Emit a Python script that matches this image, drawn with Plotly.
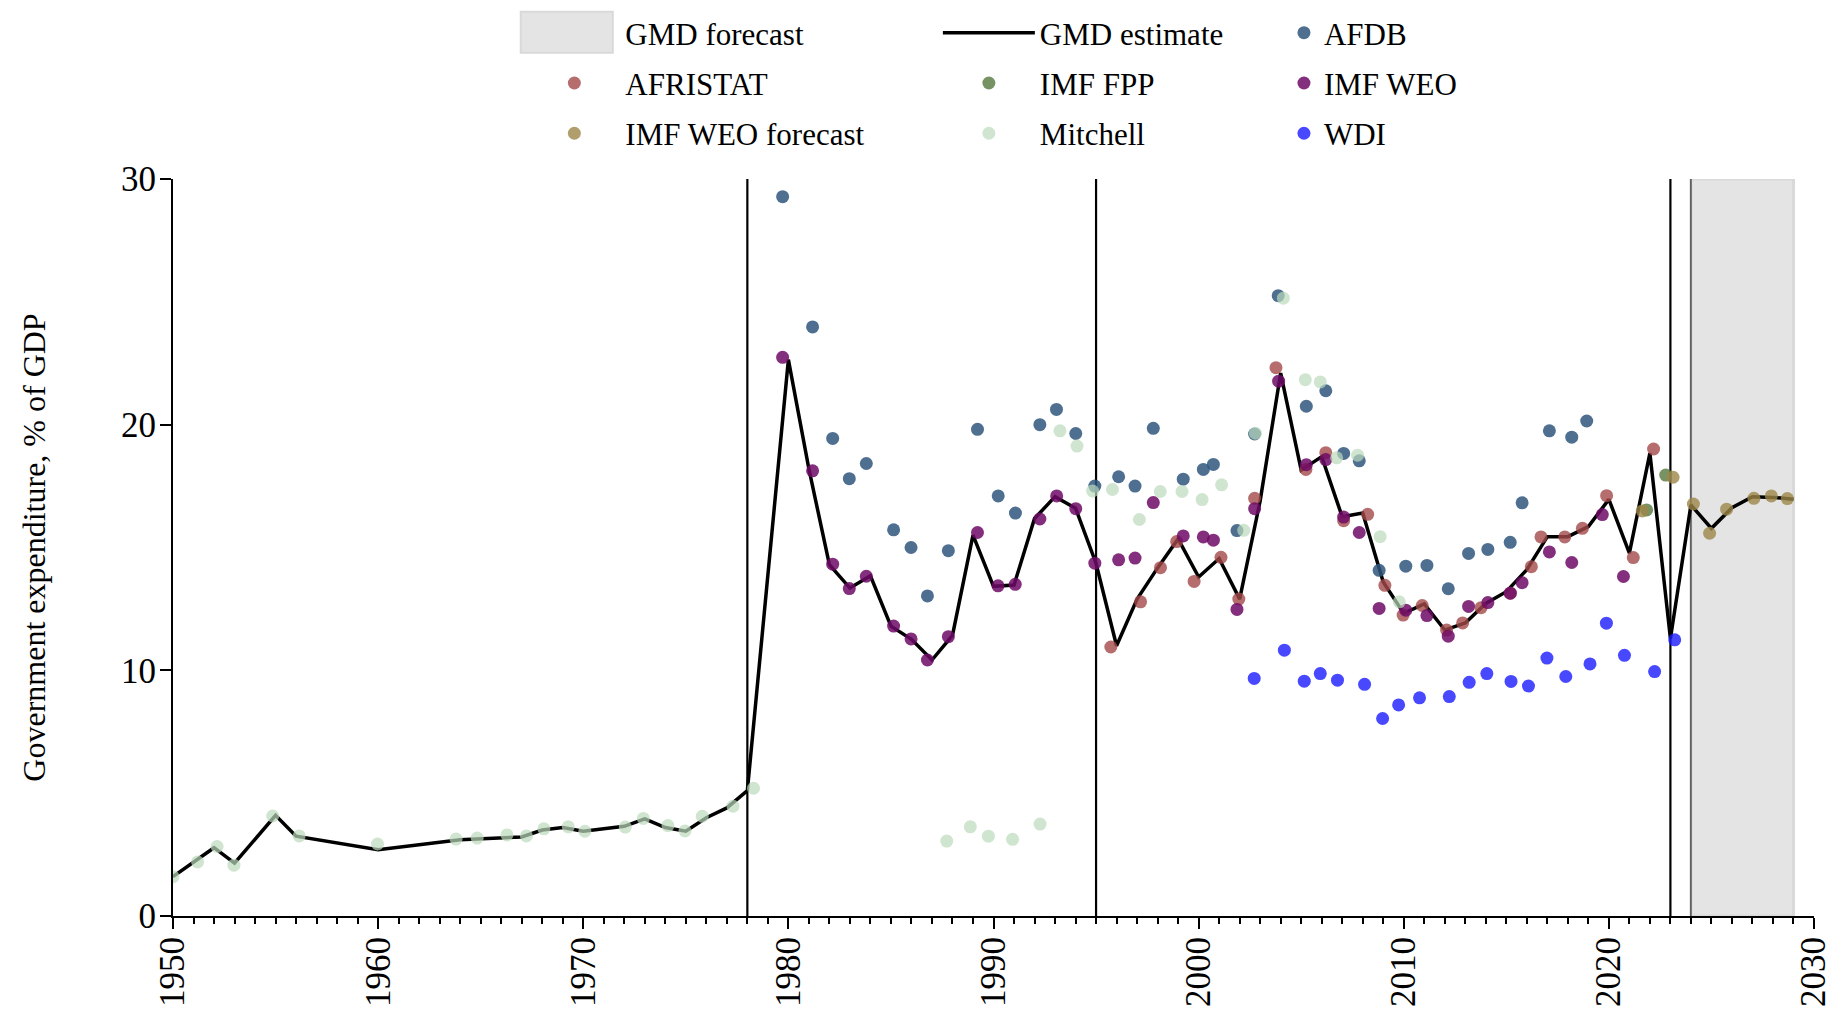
import plotly.graph_objects as go

FONT = "Liberation Serif, Times New Roman, serif"

# ---------------- data ----------------
gmd_years = [1950, 1951, 1952, 1953, 1955, 1956, 1960, 1964, 1965, 1966, 1967, 1968, 1969, 1970,
             1972, 1973, 1974, 1975, 1976, 1977, 1978] + list(range(1980, 2030))
gmd_values = [1.6, 2.2, 2.78, 2.15, 4.1, 3.25, 2.7, 3.1, 3.15, 3.2, 3.22, 3.5, 3.6, 3.45,
              3.65, 3.95, 3.6, 3.45, 4.0, 4.4, 5.1,
              22.65, 18.2, 14.3, 13.35, 13.85, 11.8, 11.26, 10.42, 11.42, 15.5,
              13.42, 13.47, 16.18, 17.07, 16.6, 14.35, 11.0, 12.9, 14.17, 15.35,
              13.8, 14.55, 12.9, 16.9, 22.1, 18.15, 18.7, 16.25, 16.4, 13.6,
              12.32, 12.7, 11.64, 11.93, 12.72, 13.2, 14.1, 15.44, 15.44, 15.85,
              16.96, 14.77, 18.84, 11.3, 16.73, 15.78, 16.62, 17.07, 17.04, 16.96]

afdb_x = [1979.72, 1981.18, 1982.16, 1982.97, 1983.8, 1985.13, 1985.98, 1986.78, 1987.8, 1989.22,
          1990.23, 1991.07, 1992.26, 1993.07, 1994.01, 1994.94, 1996.1, 1996.9, 1997.79, 1999.25,
          2000.23, 2000.72, 2001.87, 2002.73, 2003.88, 2005.25, 2006.2, 2007.07, 2007.83, 2008.8,
          2010.1, 2011.13, 2012.17, 2013.16, 2014.1, 2015.19, 2015.77, 2017.1, 2018.19, 2018.92]
afdb_y = [29.28, 23.98, 19.44, 17.8, 18.42, 15.72, 15.0, 13.03, 14.87, 19.81,
          17.1, 16.4, 20.0, 20.62, 19.64, 17.5, 17.88, 17.5, 19.85, 17.78,
          18.18, 18.38, 15.69, 19.62, 25.25, 20.75, 21.38, 18.83, 18.53, 14.07,
          14.24, 14.27, 13.32, 14.76, 14.92, 15.21, 16.82, 19.75, 19.49, 20.15]

afristat_x = [1995.72, 1997.17, 1998.14, 1998.93, 1999.78, 2001.09, 2001.96, 2002.73, 2003.77, 2005.23,
              2006.2, 2007.07, 2008.24, 2009.08, 2009.97, 2010.9, 2012.09, 2012.87, 2013.77, 2015.2,
              2016.22, 2016.69, 2017.85, 2018.71, 2019.89, 2021.19, 2022.18]
afristat_y = [10.95, 12.79, 14.18, 15.24, 13.62, 14.6, 12.9, 17.0, 22.32, 18.18,
              18.86, 16.09, 16.35, 13.46, 12.25, 12.64, 11.64, 11.93, 12.55, 13.14,
              14.22, 15.43, 15.43, 15.78, 17.11, 14.59, 19.01]

imf_fpp_x = [2021.84, 2022.77]
imf_fpp_y = [16.53, 17.95]

imf_weo_x = [1979.72, 1981.18, 1982.16, 1982.97, 1983.8, 1985.13, 1985.98, 1986.78, 1987.8, 1989.22,
             1990.22, 1991.06, 1992.26, 1993.08, 1994.01, 1994.94, 1996.1, 1996.9, 1997.79, 1999.25,
             2000.23, 2000.72, 2001.87, 2002.73, 2003.9, 2005.25, 2006.2, 2007.07, 2007.83, 2008.8,
             2010.1, 2011.13, 2012.17, 2013.16, 2014.1, 2015.19, 2015.77, 2017.1, 2018.19, 2019.68,
             2020.71]
imf_weo_y = [22.74, 18.12, 14.32, 13.33, 13.83, 11.8, 11.28, 10.42, 11.37, 15.61,
             13.44, 13.5, 16.16, 17.1, 16.58, 14.36, 14.5, 14.57, 16.83, 15.47,
             15.43, 15.3, 12.48, 16.58, 21.77, 18.37, 18.58, 16.24, 15.61, 12.52,
             12.45, 12.23, 11.39, 12.6, 12.76, 13.14, 13.57, 14.82, 14.39, 16.34,
             13.82]

weo_fc_x = [2021.63, 2023.13, 2024.12, 2024.91, 2025.74, 2027.07, 2027.92, 2028.7]
weo_fc_y = [16.49, 17.86, 16.77, 15.58, 16.56, 17.0, 17.1, 16.99]

mitchell_x = [1950.0, 1951.2, 1952.15, 1952.97, 1954.86, 1956.15, 1959.97, 1963.8, 1964.83, 1966.28,
              1967.23, 1968.08, 1969.27, 1970.08, 1972.05, 1972.93, 1974.13, 1974.96, 1975.8, 1977.3,
              1978.3, 1987.72, 1988.87, 1989.75, 1990.93, 1992.27, 1993.24, 1994.07, 1994.83, 1995.8,
              1997.11, 1998.13, 1999.19, 2000.17, 2001.12, 2002.2, 2002.77, 2004.13, 2005.2, 2005.93,
              2006.73, 2007.75, 2008.85, 2009.78]
mitchell_y = [1.6, 2.2, 2.83, 2.07, 4.07, 3.26, 2.93, 3.13, 3.17, 3.3,
              3.26, 3.55, 3.63, 3.45, 3.62, 3.97, 3.68, 3.46, 4.06, 4.47,
              5.2, 3.05, 3.63, 3.25, 3.12, 3.74, 19.75, 19.13, 17.3, 17.36,
              16.14, 17.28, 17.28, 16.95, 17.55, 15.7, 19.65, 25.15, 21.83, 21.74,
              18.65, 18.76, 15.44, 12.79]

wdi_x = [2002.71, 2004.18, 2005.15, 2005.93, 2006.77, 2008.09, 2008.97, 2009.75, 2010.77, 2012.22,
         2013.19, 2014.05, 2015.23, 2016.08, 2016.98, 2017.9, 2019.08, 2019.88, 2020.76, 2022.23,
         2023.21]
wdi_y = [9.67, 10.82, 9.56, 9.87, 9.6, 9.43, 8.04, 8.59, 8.88, 8.93,
         9.51, 9.87, 9.55, 9.36, 10.5, 9.75, 10.26, 11.92, 10.61, 9.95,
         11.24]

break_years = [1978, 1995, 2023]
forecast_start, forecast_end = 2024, 2029

x_range = [1950, 2030]
y_range = [0, 30]
x_ticks = [1950, 1960, 1970, 1980, 1990, 2000, 2010, 2020, 2030]
y_ticks = [0, 10, 20, 30]

# ---------------- figure ----------------
fig = go.Figure()

# legend-only entry for the forecast shading
fig.add_trace(go.Scatter(x=[None], y=[None], mode="markers", name="GMD forecast",
                         marker=dict(color="rgba(0,0,0,0)", size=12),
                         legend="legend", legendgroup="g1", showlegend=True))

fig.add_trace(go.Scatter(x=gmd_years, y=gmd_values, mode="lines", name="GMD estimate",
                         line=dict(color="black", width=3.5),
                         legend="legend2", legendgroup="g2"))

series = [
    ("AFDB", afdb_x, afdb_y, "#2f567d", 0.85, "legend3"),
    ("AFRISTAT", afristat_x, afristat_y, "#a24949", 0.8, "legend"),
    ("IMF FPP", imf_fpp_x, imf_fpp_y, "#55783d", 0.8, "legend2"),
    ("IMF WEO", imf_weo_x, imf_weo_y, "#6e0a66", 0.85, "legend3"),
    ("IMF WEO forecast", weo_fc_x, weo_fc_y, "#9d8649", 0.8, "legend"),
    ("Mitchell", mitchell_x, mitchell_y, "#bcdabc", 0.7, "legend2"),
    ("WDI", wdi_x, wdi_y, "#1a1aff", 0.8, "legend3"),
]
for i, (name, xs, ys, col, op, lg) in enumerate(series):
    fig.add_trace(go.Scatter(x=xs, y=ys, mode="markers", name=name,
                             marker=dict(color=col, size=13, opacity=op, line=dict(width=0)),
                             legend=lg, legendgroup="s%d" % i))

shapes = []
# forecast shading
shapes.append(dict(type="rect", xref="x", yref="y", x0=forecast_start, x1=forecast_end,
                   y0=y_range[0], y1=y_range[1], fillcolor="#e4e4e4",
                   line=dict(color="#d9d9d9", width=3), layer="below"))
shapes.append(dict(type="line", xref="x", yref="y", x0=forecast_start, x1=forecast_start,
                   y0=y_range[0], y1=y_range[1], line=dict(color="#333333", width=1.3), layer="below"))
for yr in break_years:
    shapes.append(dict(type="line", xref="x", yref="y", x0=yr, x1=yr,
                       y0=y_range[0], y1=y_range[1], line=dict(color="black", width=2.2), layer="below"))
# legend swatch for "GMD forecast"
shapes.append(dict(type="rect", xref="paper", yref="paper", x0=0.2119, x1=0.268,
                   y0=1.1714, y1=1.227, fillcolor="#e4e4e4",
                   line=dict(color="#d9d9d9", width=2), layer="above"))

legend_common = dict(font=dict(family=FONT, size=31, color="black"), bgcolor="rgba(0,0,0,0)",
                     borderwidth=0, orientation="v", xanchor="left", yanchor="top",
                     tracegroupgap=7)

fig.update_layout(
    width=1829, height=1003,
    margin=dict(l=165, r=23, t=171, b=95, autoexpand=False),
    paper_bgcolor="white", plot_bgcolor="white",
    font=dict(family=FONT, color="black"),
    shapes=shapes,
    legend=dict(x=0.2135, y=1.2347, itemwidth=92, **legend_common),
    legend2=dict(x=0.4661, y=1.2347, itemwidth=92, **legend_common),
    legend3=dict(x=0.677, y=1.2347, itemwidth=30, **legend_common),
    xaxis=dict(range=x_range, tickvals=x_ticks, tickangle=-90, showgrid=False, zeroline=False,
               showline=True, linecolor="black", linewidth=2,
               ticks="outside", ticklen=11, tickwidth=2, tickcolor="black",
               ticklabelstandoff=-6, ticklabeloverflow="allow",
               minor=dict(dtick=1, ticks="outside", ticklen=6, tickwidth=2, tickcolor="black", showgrid=False),
               tickfont=dict(family=FONT, size=35, color="black"), automargin=False),
    yaxis=dict(range=y_range, tickvals=y_ticks, showgrid=False, zeroline=False,
               showline=True, linecolor="black", linewidth=2,
               ticks="outside", ticklen=11, tickwidth=2, tickcolor="black",
               ticklabelstandoff=-3,
               tickfont=dict(family=FONT, size=35, color="black"), automargin=False,
               title=dict(text="Government expenditure, % of GDP", standoff=66,
                          font=dict(family=FONT, size=32, color="black"))),
)

fig.write_html("out.html")
